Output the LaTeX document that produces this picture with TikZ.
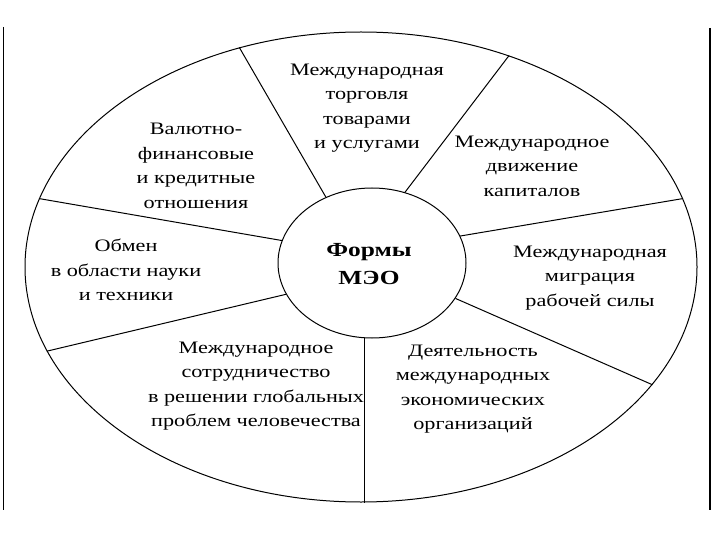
\documentclass[tikz,border=0pt]{standalone}
\usepackage{fontspec}
\setmainfont{Liberation Serif}[FakeStretch=1.27]
\usetikzlibrary{shapes.geometric}
\begin{document}
\begin{tikzpicture}[x=1pt,y=-1pt,
  ring/.style={draw, ellipse, inner sep=0pt, line width=1pt},
  spoke/.style={draw, line width=1pt},
  lbl/.style={align=center, font=\fontsize{17.5}{24.5}\selectfont, inner sep=0pt},
  core/.style={align=center, font=\fontsize{20}{28}\selectfont\bfseries, inner sep=0pt}]
\useasboundingbox (0,0) rectangle (720,540);
% side rules
\draw[line width=1pt] (3,27) -- (3,510);
\draw[line width=1.8pt] (710,28) -- (710,510);
% rings
\node[ring, minimum width=672pt, minimum height=470pt] (outer) at (361,267) {};
\node[ring, minimum width=188pt, minimum height=150pt] (inner) at (372,263) {};
% spokes
\draw[spoke] (inner.125.5) -- (outer.119.7);
\draw[spoke] (inner.65.1) -- (outer.55.2);
\draw[spoke] (inner.17.7) -- (outer.12.5);
\draw[spoke] (inner.-23.4) -- (outer.-22.0);
\draw[spoke] (inner.-96.1) -- (inner.-96.1 |- outer.south);
\draw[spoke] (inner.-160.4) -- (outer.195.5);
\draw[spoke] (inner.166.6) -- (outer.168.9);
% labels
\node[core] (forms) at (369,264) {Формы\\МЭО};
\node[lbl] (trade) at (367,108) {Международная\\торговля\\товарами\\и услугами};
\node[lbl] (valut) at (196,166) {Валютно-\\финансовые\\и кредитные\\отношения};
\node[lbl] (capit) at (532,166) {Международное\\движение\\капиталов};
\node[lbl] (obmen) at (126,270) {Обмен\\в области науки\\и техники};
\node[lbl] (migr) at (590,278) {Международная\\миграция\\рабочей силы};
\node[lbl] (coop) at (256,386) {Международное\\сотрудничество\\в решении глобальных\\проблем человечества};
\node[lbl] (activ) at (473,389) {Деятельность\\международных\\экономических\\организаций};
\end{tikzpicture}
\end{document}
